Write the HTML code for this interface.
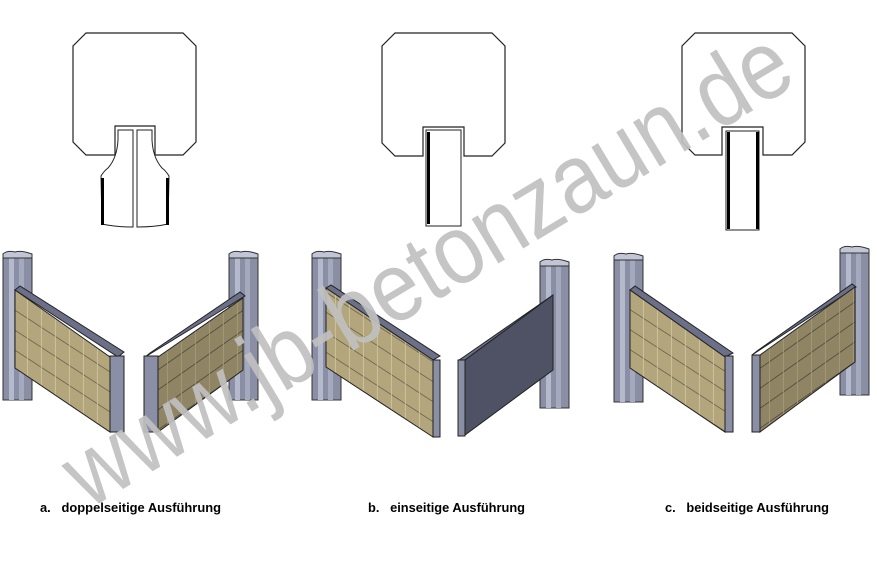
<!DOCTYPE html>
<html><head><meta charset="utf-8"><style>html,body{margin:0;padding:0;background:#fff}svg{display:block}</style></head>
<body>
<svg width="877" height="572" viewBox="0 0 877 572" xmlns="http://www.w3.org/2000/svg">
<defs>
<pattern id="brick" width="14" height="20" patternUnits="userSpaceOnUse" patternTransform="skewY(33)">
<rect width="14" height="20" fill="#b3a67c"/>
<line x1="0" y1="0.5" x2="14" y2="0.5" stroke="#6d6550" stroke-width="1"/>
<line x1="13.5" y1="0" x2="13.5" y2="20" stroke="#d1c7a0" stroke-width="0.8"/>
</pattern>
<pattern id="brick2" width="14" height="20" patternUnits="userSpaceOnUse" patternTransform="skewY(-35)">
<rect width="14" height="20" fill="#8f8463"/>
<line x1="0" y1="0.5" x2="14" y2="0.5" stroke="#4f4a3a" stroke-width="1"/>
<line x1="13.5" y1="0" x2="13.5" y2="20" stroke="#a89d78" stroke-width="0.8"/>
</pattern>
<g id="postL">
<rect x="0" y="4" width="29" height="146" fill="#8a8fa6" stroke="#333" stroke-width="1"/>
<rect x="6" y="4" width="5" height="146" fill="#b5b9cc"/>
<rect x="16" y="4" width="5" height="146" fill="#a5a9be"/>
<path d="M0 4 Q4 0 12 2 Q18 0 29 4 L29 8 L0 8Z" fill="#c2c5d6" stroke="#333" stroke-width="1"/>
</g>
</defs>

<g fill="#fff" stroke="#222" stroke-width="1.2">
<path d="M86 33 L183 33 L196 46 L196 142 L183 155 L155 155 L155 126 L115 126 L115 155 L86 155 L73 142 L73 46Z"/>
<path d="M395 33 L492 33 L505 46 L505 143 L492 156 L464 156 L464 127 L423 127 L423 156 L395 156 L382 143 L382 46Z"/>
<path d="M695 33 L792 33 L805 46 L805 142 L792 155 L763 155 L763 127 L722 127 L722 155 L695 155 L682 142 L682 46Z"/>
</g>
<g fill="#fff" stroke="#222" stroke-width="1">
<path d="M118 130 L133 130 L133 227 Q115 227 102 224 L101 176 Q104 171 108 168 Q117 158 118 140 Z"/>
<path d="M137 130 L152 130 L152 140 Q153 158 162 168 Q166 171 169 176 L168 224 Q155 227 137 227 Z"/>
<rect x="426" y="130" width="35" height="96"/>
<rect x="726" y="131" width="33" height="99"/>
</g>
<g fill="#000">
<rect x="101" y="178" width="3" height="47"/><rect x="166" y="178" width="3" height="47"/>
<rect x="427" y="132" width="3" height="92"/>
<rect x="727" y="132" width="3" height="97"/><rect x="756" y="132" width="3" height="97"/>
</g>

<!-- a -->
<use href="#postL" x="3" y="250"/>
<path d="M15 290 L20 286 L124 352 L118 357Z" fill="#6b6f88" stroke="#222"/>
<path d="M15 290 L110 357 L110 432 L15 368Z" fill="url(#brick)" stroke="#222"/>
<rect x="110" y="356" width="14" height="76" fill="#8a8fa6" stroke="#222"/>
<use href="#postL" x="229" y="250"/>
<path d="M145 357 L150 353 L240 292 L245 296Z" fill="#6b6f88" stroke="#222"/>
<path d="M158 357 L243 298 L243 370 L158 432Z" fill="url(#brick2)" stroke="#222"/>
<rect x="144" y="356" width="14" height="76" fill="#8a8fa6" stroke="#222"/>

<!-- b -->
<use href="#postL" x="312" y="250"/>
<path d="M326 288 L331 285 L440 356 L433 360Z" fill="#6b6f88" stroke="#222"/>
<path d="M326 288 L433 360 L433 437 L326 367Z" fill="url(#brick)" stroke="#222"/>
<rect x="433" y="360" width="7" height="77" fill="#8a8fa6" stroke="#222"/>
<use href="#postL" x="540" y="258"/>
<path d="M459 360 L465 356 L553 295 L465 360Z" fill="#6b6f88" stroke="#222"/>
<path d="M465 360 L553 295 L553 370 L465 435Z" fill="#4f5264" stroke="#222"/>
<rect x="458" y="360" width="7" height="76" fill="#8a8fa6" stroke="#222"/>

<!-- c -->
<use href="#postL" x="614" y="252"/>
<path d="M630 290 L635 286 L733 353 L725 357Z" fill="#6b6f88" stroke="#222"/>
<path d="M630 290 L725 357 L725 432 L630 368Z" fill="url(#brick)" stroke="#222"/>
<rect x="725" y="356" width="8" height="76" fill="#8a8fa6" stroke="#222"/>
<use href="#postL" x="840" y="245"/>
<path d="M752 355 L757 351 L852 284 L856 287Z" fill="#6b6f88" stroke="#222"/>
<path d="M760 355 L855 287 L855 362 L760 432Z" fill="url(#brick2)" stroke="#222"/>
<rect x="752" y="355" width="8" height="77" fill="#8a8fa6" stroke="#222"/>

<text x="88" y="510" transform="rotate(-31 88 510)" font-family="Liberation Sans, sans-serif" font-size="98" fill="#c0c0c0" fill-opacity="0.92" textLength="830" lengthAdjust="spacingAndGlyphs">www.jb-betonzaun.de</text>

<g font-family="Liberation Sans, sans-serif" font-weight="bold" font-size="12.5" fill="#000">
<text x="40" y="512" textLength="181" lengthAdjust="spacingAndGlyphs">a.&#160;&#160;&#160;doppelseitige Ausführung</text>
<text x="368" y="512" textLength="157" lengthAdjust="spacingAndGlyphs">b.&#160;&#160;&#160;einseitige Ausführung</text>
<text x="665" y="512" textLength="164" lengthAdjust="spacingAndGlyphs">c.&#160;&#160;&#160;beidseitige Ausführung</text>
</g>
</svg>
</body></html>
